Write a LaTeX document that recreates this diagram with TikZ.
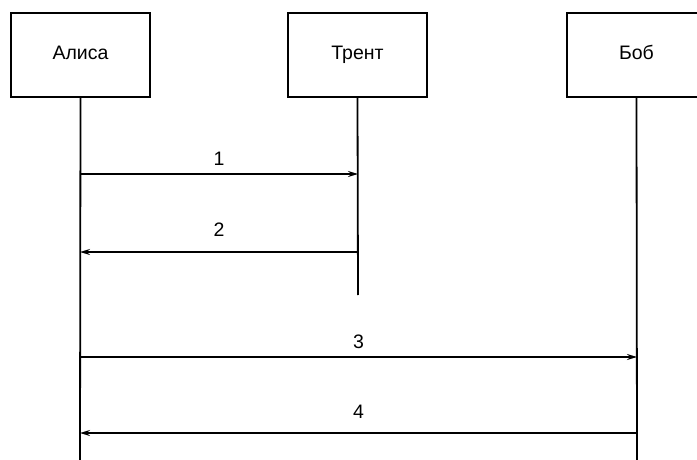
\documentclass[tikz,border=0pt]{standalone}
\usepackage{fontspec}
\setmainfont{Liberation Sans}
\usetikzlibrary{arrows.meta}
\begin{document}
\begin{tikzpicture}[x=1pt,y=-1pt,
  actor/.style={draw,line width=1.6pt,minimum width=139pt,minimum height=84pt,inner sep=0pt,text height=14pt,text depth=4pt,font=\fontsize{19.5}{22}\selectfont},
  life/.style={line width=1.8pt},
  msg/.style={line width=1.5pt,-{Stealth[length=10pt,width=6pt]}},
  lbl/.style={font=\fontsize{19.5}{22}\selectfont,inner sep=0pt}]
\useasboundingbox (0,0) rectangle (697,460);
\clip (0,0) rectangle (697,460);
\node[actor] (A) at (80.5,55) {Алиса};
\node[actor] (T) at (357.5,55) {Трент};
\node[actor] (B) at (636.5,55) {Боб};
\coordinate (Aend) at (80,460);
\coordinate (Tend) at (358,295);
\coordinate (Bend) at (637,460);
\draw[life] (A.south) -- (Aend);
\draw[life] (T.south) -- (Tend);
\draw[life] (B.south) -- (Bend);
\coordinate (a1) at (80,174); \coordinate (t1) at (358,174);
\coordinate (a2) at (80,252); \coordinate (t2) at (358,252);
\coordinate (a3) at (80,357); \coordinate (b3) at (637,357);
\coordinate (a4) at (80,433); \coordinate (b4) at (637,433);
\draw[msg] (a1) -- node[lbl,above=8pt] (l1) {1} (t1);
\draw[msg] (t2) -- node[lbl,above=15pt] (l2) {2} (a2);
\draw[msg] (a3) -- node[lbl,above=8pt] (l3) {3} (b3);
\draw[msg] (b4) -- node[lbl,above=14pt] (l4) {4} (a4);
\end{tikzpicture}
\end{document}
